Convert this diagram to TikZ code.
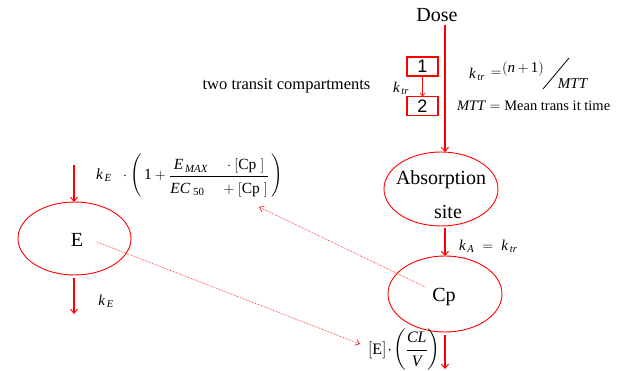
\documentclass[tikz,border=0pt]{standalone}
\usepackage{amsmath}
\usepackage{fontspec}
\setmainfont{Liberation Serif}
\newfontfamily\boxfont{Liberation Sans}
\usetikzlibrary{arrows.meta,shapes.geometric}
\newcommand\itx[1]{\textit{#1}}
\begin{document}
\begin{tikzpicture}[x=1pt,y=-1pt,
  every node/.style={inner sep=0pt, outer sep=0pt},
  arr/.style={draw=red, line width=1.1pt, -{Straight Barb[length=4pt,width=7pt,line width=1pt]}},
  thinarr/.style={draw=red, line width=0.6pt, -{Straight Barb[length=3pt,width=5pt,line width=0.6pt]}},
  dotarr/.style={draw=red, line width=0.6pt, densely dotted, -{Straight Barb[length=4pt,width=6pt,line width=0.6pt]}},
  comp/.style={ellipse, draw=red, line width=0.9pt},
  tbox/.style={rectangle, draw=red, line width=1.3pt, minimum width=31pt, minimum height=19pt, font=\boxfont\fontsize{18}{18}\selectfont},
  big/.style={font=\fontsize{20}{22}\selectfont},
  mid/.style={font=\fontsize{15}{17}\selectfont},
  small/.style={font=\fontsize{14.5}{16}\selectfont},
  ]
\clip (0,0) rectangle (619,371);
\fill[white] (0,0) rectangle (619,371);

% main nodes
\node[big] (dose) at (437,15) {Dose};
\node[comp, minimum width=114pt, minimum height=74pt] (abs) at (441,189) {};
\node[big] (abstxt1) at (441,180) {Absorption};
\node[big] (abstxt2) at (448,212) {site};
\node[comp, minimum width=114pt, minimum height=76pt] (cp) at (445,294) {};
\node[big] (cptxt) at (444,297) {Cp};
\node[comp, minimum width=113pt, minimum height=73pt] (e) at (74.5,238.5) {};
\node[big] (etxt) at (77,240) {E};

% transit compartments
\node[tbox] (b1) at (422.5,66.5) {1};
\node[tbox] (b2) at (422.5,106) {2};
\draw[thinarr] (b1.south) -- (b2.north);
\node[mid] (ktrl) at (401,88) {$\itx{k}_{\,\itx{tr}}$};
\node[font=\fontsize{16.5}{18}\selectfont] (two) at (286.5,86) {two transit compartments};

% MTT formulas
\node[mid] (ktr) at (477,74) {$\itx{k}_{\,\itx{tr}}$};
\node[mid] (eq1) at (496,74) {$=$};
\node[mid] (np1) at (523,69) {$(\itx{n}\,{+}\,\text{1})$};
\draw[line width=0.8pt] (543,89) -- (569,58);
\node[mid] (mtt) at (573,84) {\itx{MTT}};
\node[small, anchor=west] (mttdef) at (457,106) {\itx{MTT} $=$ Mean trans it time};

% kA label
\node[mid, anchor=west] (kal) at (459,246) {$\itx{k}_{\,\itx{A}} \;=\; \itx{k}_{\,\itx{tr}}$};

% effect formula
\node[font=\fontsize{15.5}{17}\selectfont, anchor=west] (fke) at (96,176) {$\itx{k}_{\,\itx{E}}\;\;\cdot\left(\,\text{1}+\dfrac{\itx{E}_{\,\itx{MAX}}\;\;\;\;\cdot[\text{Cp}\;]\rule[-2pt]{0pt}{10pt}}{\rule{0pt}{15pt}\itx{EC}_{\;\text{50}}\;\;\;\;+[\text{Cp}\;]}\,\right)$};
\node[mid] (kel) at (106,301) {$\itx{k}_{\,\itx{E}}$};

% elimination label
\node[font=\fontsize{16}{18}\selectfont, anchor=west] (elab) at (368,350) {$[\text{E}]\!\cdot\!\left(\dfrac{\itx{CL}}{\rule{0pt}{12pt}\itx{V}}\right)$};

% arrows
\coordinate (ein) at (74,165);
\coordinate (eout) at (74,314);
\coordinate (cpout) at (445,369);
\draw[arr] (dose.south -| cp.center) ++(0,-3pt) -- (abs.north -| cp.center);
\draw[arr] (abs.south -| cp.center) ++(0,-2pt) -- (cp.north);
\draw[arr] (cp.south) ++(0,-3pt) -- (cpout);
\draw[arr] (ein) -- (e.north -| ein);
\draw[arr] (e.south -| ein) ++(0,-3pt) -- (eout);

% dotted influence arrows
\draw[dotarr] ([xshift=14pt,yshift=-2pt]etxt.east) -- (360,344);
\draw[dotarr] ([xshift=-7pt,yshift=10pt]cptxt.west) -- (259,207);
\end{tikzpicture}
\end{document}
